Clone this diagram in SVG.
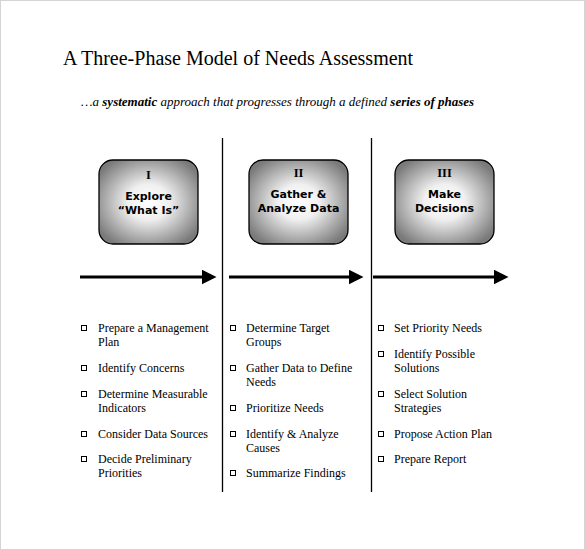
<svg xmlns="http://www.w3.org/2000/svg" width="585" height="550" viewBox="0 0 585 550">
<style>
.title{font-family:"Liberation Serif",serif;font-size:20px;fill:#000}
.sub{font-family:"Liberation Serif",serif;font-size:13px;font-style:italic;fill:#000}
.num{font-family:"Liberation Serif",serif;font-size:12.5px;font-weight:bold;text-anchor:middle;fill:#000}
.lbl{font-family:"DejaVu Sans",sans-serif;font-size:11px;font-weight:bold;text-anchor:middle;fill:#000}
.item{font-family:"Liberation Serif",serif;font-size:12px;fill:#000}
.box{fill:url(#g);stroke:#000;stroke-width:1.3}
.bul{fill:#fff;stroke:#000;stroke-width:1}
.sep{stroke:#000;stroke-width:1.3}
.arr{stroke:#000;stroke-width:3;fill:none;marker-end:url(#ah)}
</style>
<defs>
<radialGradient id="g" cx="50%" cy="50%" r="60%">
<stop offset="0" stop-color="#ffffff"/>
<stop offset="0.35" stop-color="#f0f0f0"/>
<stop offset="1" stop-color="#7a7a7a"/>
</radialGradient>
<marker id="ah" markerWidth="5" markerHeight="5" refX="0.5" refY="2.5" orient="auto" markerUnits="strokeWidth">
<path d="M0,0 L5,2.5 L0,5 Z" fill="#000"/>
</marker>
</defs>
<rect x="0.5" y="0.5" width="584" height="549" fill="#fff" stroke="#d4d4d4" stroke-width="1"/>
<text class="title" x="63" y="65">A Three-Phase Model of Needs Assessment</text>
<text class="sub" x="81" y="106">…a <tspan font-weight="bold">systematic</tspan> approach that progresses through a defined <tspan font-weight="bold">series of phases</tspan></text>

<g id="separators">
<line class="sep" x1="222.5" y1="138" x2="222.5" y2="492"/>
<line class="sep" x1="371.5" y1="138" x2="371.5" y2="492"/>
</g>

<g id="phase1">
<rect class="box" x="99" y="160" width="99" height="84" rx="14"/>
<text class="num" x="148.5" y="179">I</text>
<text class="lbl" x="148.5" y="200">Explore</text>
<text class="lbl" x="148.5" y="214">“What Is”</text>
</g>
<g id="phase2">
<rect class="box" x="249" y="160" width="99" height="84" rx="14"/>
<text class="num" x="298.5" y="177">II</text>
<text class="lbl" x="298.5" y="198">Gather &amp;</text>
<text class="lbl" x="298.5" y="212">Analyze Data</text>
</g>
<g id="phase3">
<rect class="box" x="395" y="160" width="99" height="84" rx="14"/>
<text class="num" x="444.5" y="177">III</text>
<text class="lbl" x="444.5" y="198">Make</text>
<text class="lbl" x="444.5" y="212">Decisions</text>
</g>

<g id="connectors">
<line class="arr" x1="80" y1="277" x2="203" y2="277"/>
<line class="arr" x1="229" y1="277" x2="350" y2="277"/>
<line class="arr" x1="373" y1="277" x2="495" y2="277"/>
</g>

<g id="list1">
<rect class="bul" x="81.5" y="325.5" width="5" height="5"/>
<text class="item" x="98" y="332">Prepare a Management</text>
<text class="item" x="98" y="346">Plan</text>
<rect class="bul" x="81.5" y="365.5" width="5" height="5"/>
<text class="item" x="98" y="372">Identify Concerns</text>
<rect class="bul" x="81.5" y="391.5" width="5" height="5"/>
<text class="item" x="98" y="398">Determine Measurable</text>
<text class="item" x="98" y="412">Indicators</text>
<rect class="bul" x="81.5" y="431.5" width="5" height="5"/>
<text class="item" x="98" y="438">Consider Data Sources</text>
<rect class="bul" x="81.5" y="456.5" width="5" height="5"/>
<text class="item" x="98" y="463">Decide Preliminary</text>
<text class="item" x="98" y="477">Priorities</text>
</g>
<g id="list2">
<rect class="bul" x="230.5" y="325.5" width="5" height="5"/>
<text class="item" x="246" y="332">Determine Target</text>
<text class="item" x="246" y="346">Groups</text>
<rect class="bul" x="230.5" y="365.5" width="5" height="5"/>
<text class="item" x="246" y="372">Gather Data to Define</text>
<text class="item" x="246" y="386">Needs</text>
<rect class="bul" x="230.5" y="405.5" width="5" height="5"/>
<text class="item" x="246" y="412">Prioritize Needs</text>
<rect class="bul" x="230.5" y="431.5" width="5" height="5"/>
<text class="item" x="246" y="438">Identify &amp; Analyze</text>
<text class="item" x="246" y="452">Causes</text>
<rect class="bul" x="230.5" y="470.5" width="5" height="5"/>
<text class="item" x="246" y="477">Summarize Findings</text>
</g>
<g id="list3">
<rect class="bul" x="378.5" y="325.5" width="5" height="5"/>
<text class="item" x="394" y="332">Set Priority Needs</text>
<rect class="bul" x="378.5" y="351.5" width="5" height="5"/>
<text class="item" x="394" y="358">Identify Possible</text>
<text class="item" x="394" y="372">Solutions</text>
<rect class="bul" x="378.5" y="391.5" width="5" height="5"/>
<text class="item" x="394" y="398">Select Solution</text>
<text class="item" x="394" y="412">Strategies</text>
<rect class="bul" x="378.5" y="431.5" width="5" height="5"/>
<text class="item" x="394" y="438">Propose Action Plan</text>
<rect class="bul" x="378.5" y="456.5" width="5" height="5"/>
<text class="item" x="394" y="463">Prepare Report</text>
</g>
</svg>
